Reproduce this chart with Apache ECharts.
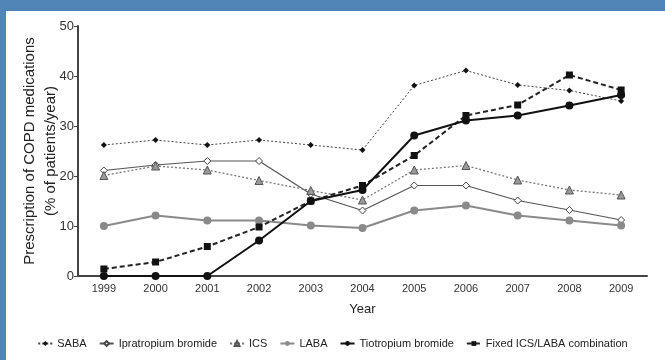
<!DOCTYPE html>
<html><head><meta charset="utf-8">
<script src="https://cdn.jsdelivr.net/npm/echarts@6/dist/echarts.min.js"></script>
<style>html,body{margin:0;padding:0;background:#fff}#c{width:665px;height:360px}</style>
</head><body><div id="c"></div>
<script>
const years = ['1999','2000','2001','2002','2003','2004','2005','2006','2007','2008','2009'];
const saba = [26.2, 27.2, 26.2, 27.2, 26.2, 25.2, 38.1, 41.1, 38.2, 37.1, 35.0];
const ipratropium = [21.1, 22.2, 23.0, 23.0, 16.4, 13.1, 18.1, 18.1, 15.1, 13.2, 11.2];
const ics = [20.1, 22.0, 21.2, 19.1, 17.1, 15.2, 21.2, 22.1, 19.2, 17.2, 16.2];
const laba = [10.0, 12.1, 11.1, 11.1, 10.1, 9.6, 13.1, 14.1, 12.1, 11.1, 10.1];
const tiotropium = [0, 0, 0, 7.1, 15.0, 17.2, 28.1, 31.1, 32.1, 34.1, 36.2];
const fixedCombo = [1.4, 2.8, 5.9, 9.8, 15.0, 18.1, 24.1, 32.1, 34.2, 40.2, 37.2];
const yTicks = { min: 0, max: 50, interval: 10 };

const chart = echarts.init(document.getElementById('c'), null, {renderer: 'canvas'});
const font = 'Liberation Sans, Arial, Helvetica, sans-serif';
function mk(name, data, o) {
  return {
    name, type: 'line', data, symbol: o.symbol, symbolSize: o.size,
    z: o.z || 2,
    lineStyle: { color: o.line, width: o.width, type: o.type },
    itemStyle: { color: o.fill, borderColor: o.border, borderWidth: o.bw || 0 },
    emphasis: { disabled: true }, animation: false
  };
}
chart.setOption({
  animation: false,
  textStyle: { fontFamily: font },
  graphic: [
    { type: 'rect', shape: { x: 0, y: 0, width: 665, height: 11 }, style: { fill: '#5185b7' }, z: 100 },
    { type: 'rect', shape: { x: 0, y: 0, width: 6, height: 360 }, style: { fill: '#5185b7' }, z: 100 }
  ],
  grid: { left: 78, right: 18, top: 26, bottom: 84 },
  legend: {
    top: 333, left: 'center', itemGap: 12, itemWidth: 14, itemHeight: 6,
    textStyle: { fontSize: 11, color: '#222', fontFamily: font },
    data: ['SABA','Ipratropium bromide','ICS','LABA','Tiotropium bromide','Fixed ICS/LABA combination']
  },
  xAxis: {
    type: 'category', data: years, boundaryGap: true,
    name: 'Year', nameLocation: 'middle', nameGap: 27, nameMoveOverlap: false,
    nameTextStyle: { fontSize: 13, color: '#222', fontFamily: font },
    axisLine: { lineStyle: { color: '#444', width: 2 } },
    axisTick: { show: false },
    axisLabel: { fontSize: 11, color: '#333', margin: 7, fontFamily: font }
  },
  yAxis: {
    type: 'value', min: yTicks.min, max: yTicks.max, interval: yTicks.interval,
    name: 'Prescription of COPD medications\n(% of patients/year)',
    nameLocation: 'middle', nameGap: 17, nameRotate: 90, nameMoveOverlap: false,
    nameTextStyle: { fontSize: 15, color: '#222', lineHeight: 21, fontFamily: font },
    axisLine: { show: true, lineStyle: { color: '#444', width: 2 } },
    axisTick: { show: true, length: 4, lineStyle: { color: '#444' } },
    splitLine: { show: false },
    axisLabel: { fontSize: 13, color: '#333', margin: 4, fontFamily: font }
  },
  series: [
    mk('SABA', saba, { symbol: 'diamond', size: 6, line: '#444', width: 1, type: [2, 2], fill: '#111' }),
    mk('Ipratropium bromide', ipratropium, { symbol: 'diamond', size: 7, line: '#555', width: 1.2, type: 'solid', fill: '#fff', border: '#444', bw: 1 }),
    mk('ICS', ics, { symbol: 'triangle', size: 8, line: '#777', width: 1.3, type: [2, 2], fill: '#999', border: '#555', bw: 1 }),
    mk('LABA', laba, { symbol: 'circle', size: 8, line: '#8a8a8a', width: 2, type: 'solid', fill: '#8a8a8a' }),
    mk('Tiotropium bromide', tiotropium, { symbol: 'circle', size: 8, line: '#111', width: 2, type: 'solid', fill: '#111', z: 4 }),
    mk('Fixed ICS/LABA combination', fixedCombo, { symbol: 'rect', size: 7, line: '#222', width: 2, type: [5, 3], fill: '#111', z: 3 })
  ]
});
</script></body></html>
